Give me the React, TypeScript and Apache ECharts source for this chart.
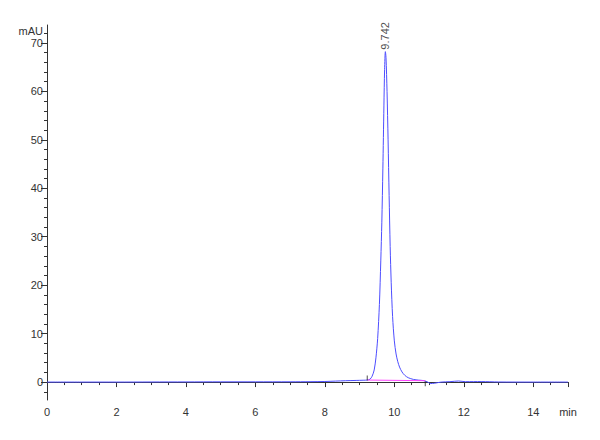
import { useRef, useEffect } from 'react'
import * as echarts from 'echarts'

// chromatogram trace: [time (min), signal (mAU)]
const trace: [number, number][] = [
  [0, 0], [1, 0], [2, 0], [3, 0.02], [4, 0.03], [5, 0.05], [6, 0.05], [7, 0.06],
  [7.6, 0.08], [8.0, 0.12], [8.3, 0.2], [8.6, 0.28], [8.9, 0.34], [9.1, 0.38],
  [9.22, 0.42], [9.3, 0.6], [9.36, 1.2], [9.42, 2.5], [9.47, 5], [9.52, 9],
  [9.57, 16], [9.61, 25], [9.64, 33], [9.67, 44], [9.7, 57], [9.72, 64.5],
  [9.742, 68.2], [9.76, 67], [9.79, 60], [9.82, 50], [9.85, 38.5], [9.88, 28],
  [9.91, 20.5], [9.95, 13.5], [10.0, 8.5], [10.05, 5.8], [10.1, 4.2], [10.15, 3.1],
  [10.22, 2.1], [10.3, 1.4], [10.4, 0.9], [10.55, 0.55], [10.7, 0.4], [10.85, 0.3],
  [10.95, 0.05], [11.05, -0.3], [11.15, -0.25], [11.35, 0], [11.6, 0.08],
  [11.85, 0.22], [12.05, 0.08], [12.5, 0.1], [13, 0.02], [14, 0], [15, 0],
]

// integration baseline under the peak
const baseline: [number, number][] = [[9.22, 0.42], [10.89, 0.28]]

const peakTime = 9.742
const peakHeight = 68.2
const peakLabel = '9.742'

const xTicks = [0, 2, 4, 6, 8, 10, 12, 14]
const yLabels = [0, 10, 20, 30, 40, 50, 60, 70]
const yMinor = [-2, 0, 2, 4, 6, 8, 10, 12, 14, 16, 18, 20, 22, 24, 26, 28, 30, 32, 34, 36, 38, 40, 42, 44, 46, 48, 50, 52, 54, 56, 58, 60, 62, 64, 66, 68, 70, 72]
const yMin = -3.7
const yMax = 73.7

const FONT = '"Liberation Sans Narrow", "Liberation Sans", Arial, sans-serif'
const AXIS = '#333'

export default function App() {
  const chartRef = useRef<HTMLDivElement>(null)

  useEffect(() => {
    if (!chartRef.current) return
    document.body.style.margin = '0'
    const chart = echarts.init(chartRef.current, null, { renderer: 'svg' })

    const labelStyle = { color: AXIS, fontSize: 11, fontFamily: FONT }

    chart.setOption({
      animation: false,
      backgroundColor: '#fff',
      grid: { left: 47, right: 32, top: 25, bottom: 40 },
      xAxis: {
        type: 'value',
        min: 0,
        max: 15,
        interval: 2,
        axisLine: { lineStyle: { color: AXIS, width: 1 } },
        axisTick: { show: true, length: 5, lineStyle: { color: AXIS } },
        minorTick: { show: true, splitNumber: 4, length: 3, lineStyle: { color: AXIS } },
        splitLine: { show: false },
        axisLabel: {
          ...labelStyle,
          margin: 6,
          customValues: [...xTicks, 15],
          formatter: (v: number) => (v === 15 ? 'min' : String(v)),
        },
      },
      yAxis: [
        {
          type: 'value',
          min: yMin,
          max: yMax,
          axisLine: { show: true, lineStyle: { color: AXIS, width: 1 } },
          axisTick: { show: true, length: 6, customValues: yLabels, lineStyle: { color: AXIS } },
          splitLine: { show: false },
          axisLabel: {
            ...labelStyle,
            margin: 4,
            customValues: [...yLabels, 72.4],
            formatter: (v: number) => (v > 71 ? 'mAU' : String(v)),
          },
        },
        {
          type: 'value',
          position: 'left',
          min: yMin,
          max: yMax,
          axisLine: { show: false },
          axisTick: { show: true, length: 3, customValues: yMinor, lineStyle: { color: AXIS } },
          splitLine: { show: false },
          axisLabel: { show: false },
        },
      ],
      series: [
        {
          type: 'line',
          data: trace,
          showSymbol: false,
          smooth: 0.3,
          lineStyle: { color: '#4d4dff', width: 1 },
          z: 3,
        },
        {
          type: 'line',
          data: baseline,
          showSymbol: false,
          lineStyle: { color: '#ff44ff', width: 1 },
          z: 4,
        },
        {
          type: 'scatter',
          data: [
            { value: baseline[0], symbolOffset: [0, -2] },
            { value: baseline[1], symbolOffset: [0, 3] },
          ],
          symbol: 'rect',
          symbolSize: [1, 5],
          itemStyle: { color: '#222' },
          z: 5,
        },
        {
          type: 'scatter',
          data: [[peakTime, peakHeight]],
          symbolSize: 0,
          label: {
            show: true,
            formatter: peakLabel,
            position: 'top',
            rotate: 90,
            align: 'left',
            verticalAlign: 'middle',
            distance: 2,
            color: '#222',
            fontSize: 11,
            fontFamily: FONT,
          },
          z: 6,
        },
      ],
    })

    return () => chart.dispose()
  }, [])

  return <div ref={chartRef} style={{ width: 600, height: 440 }} />
}
